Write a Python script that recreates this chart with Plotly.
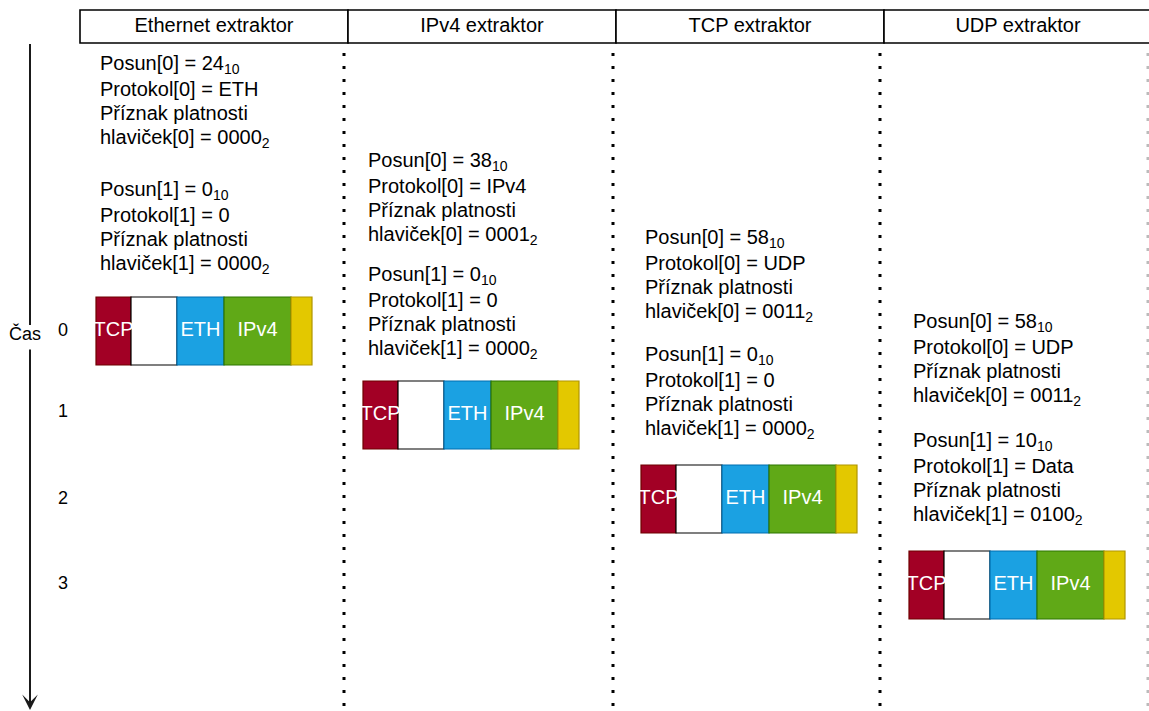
import plotly.graph_objects as go

W, H = 1149, 711

# ---------------- data ----------------
column_titles = ["Ethernet extraktor", "IPv4 extraktor", "TCP extraktor", "UDP extraktor"]
posun0 = ["24", "38", "58", "58"]
protokol0 = ["ETH", "IPv4", "UDP", "UDP"]
platnost0 = ["0000", "0001", "0011", "0011"]
posun1 = ["0", "0", "0", "10"]
protokol1 = ["0", "0", "0", "Data"]
platnost1 = ["0000", "0000", "0000", "0100"]
time_steps = [0, 1, 2, 3]
time_title = "Čas"

segment_labels = ["TCP", "", "ETH", "IPv4", ""]
segment_widths = [35, 46, 47, 67, 21]
segment_fill = ["#a20025", "#ffffff", "#1ba1e2", "#60a917", "#e3c800"]
segment_line = ["#6f0000", "#000000", "#006eaf", "#2d7600", "#b09500"]

# ---------------- layout constants ----------------
FONT = "Liberation Sans, Arial, Helvetica, sans-serif"
col_left = [80, 348, 616, 884]
col_width = 268
header_top, header_bottom = 10, 43
dot_x = [344, 613, 880, 1148]
dot_color = ["#000000", "#000000", "#000000", "#bbbbbb"]
text_x = [100, 368, 645, 913]
block0_y = [65, 162, 239, 323]
block1_y = [191, 276, 356, 442]
line_offsets = [0, 26, 50, 74]
packet_x = [96, 363, 641, 909]
packet_y = [297, 381, 465, 551]
packet_h = 68
time_x = 63
time_y = [331, 412, 499, 584]
axis_x = 30

shapes = []
fig = go.Figure()

# header boxes
for i, title in enumerate(column_titles):
    x0 = col_left[i]
    shapes.append(dict(type="rect", xref="x", yref="y", x0=x0, x1=x0 + col_width,
                       y0=header_top, y1=header_bottom,
                       line=dict(color="#000000", width=1.6), fillcolor="white", layer="below"))
fig.add_trace(go.Scatter(
    x=[col_left[i] + col_width / 2 for i in range(len(column_titles))],
    y=[(header_top + header_bottom) / 2] * len(column_titles),
    text=column_titles, mode="text", textposition="middle center",
    textfont=dict(family=FONT, size=20, color="#000000"), hoverinfo="skip", showlegend=False))

# dotted separators
for xd, c in zip(dot_x, dot_color):
    shapes.append(dict(type="line", xref="x", yref="y", x0=xd, x1=xd, y0=53, y1=H,
                       line=dict(color=c, width=3, dash="3px,10px"), layer="below"))

# text blocks
tx, ty, tt = [], [], []
for i in range(4):
    lines0 = [f"Posun[0] = {posun0[i]}<sub>10</sub>",
              f"Protokol[0] = {protokol0[i]}",
              "Příznak platnosti",
              f"hlaviček[0] = {platnost0[i]}<sub>2</sub>"]
    lines1 = [f"Posun[1] = {posun1[i]}<sub>10</sub>",
              f"Protokol[1] = {protokol1[i]}",
              "Příznak platnosti",
              f"hlaviček[1] = {platnost1[i]}<sub>2</sub>"]
    for k, ln in enumerate(lines0):
        tx.append(text_x[i]); ty.append(block0_y[i] + line_offsets[k]); tt.append(ln)
    for k, ln in enumerate(lines1):
        tx.append(text_x[i]); ty.append(block1_y[i] + line_offsets[k]); tt.append(ln)
fig.add_trace(go.Scatter(x=tx, y=ty, text=tt, mode="text", textposition="middle right",
                         textfont=dict(family=FONT, size=20, color="#000000"),
                         hoverinfo="skip", showlegend=False))

# packets
lx, ly, lt = [], [], []
for p in range(4):
    x = packet_x[p]
    for lab, w, fc, lc in zip(segment_labels, segment_widths, segment_fill, segment_line):
        shapes.append(dict(type="rect", xref="x", yref="y", x0=x, x1=x + w,
                           y0=packet_y[p], y1=packet_y[p] + packet_h,
                           fillcolor=fc, line=dict(color=lc, width=1.2), layer="below"))
        if lab:
            lx.append(x + w / 2); ly.append(packet_y[p] + packet_h / 2); lt.append(lab)
        x += w
fig.add_trace(go.Scatter(x=lx, y=ly, text=lt, mode="text", textposition="middle center",
                         textfont=dict(family=FONT, size=20, color="#ffffff"),
                         hoverinfo="skip", showlegend=False))

# time labels
fig.add_trace(go.Scatter(x=[time_x] * len(time_steps), y=time_y,
                         text=[str(t) for t in time_steps], mode="text",
                         textposition="middle center",
                         textfont=dict(family=FONT, size=18, color="#000000"),
                         hoverinfo="skip", showlegend=False))
fig.add_trace(go.Scatter(x=[25], y=[335], text=[time_title], mode="text",
                         textposition="middle center",
                         textfont=dict(family=FONT, size=18, color="#000000"),
                         hoverinfo="skip", showlegend=False))

# time axis arrow
shapes.append(dict(type="line", xref="x", yref="y", x0=axis_x, x1=axis_x, y0=44, y1=325,
                   line=dict(color="#1a1a1a", width=2)))
fig.add_annotation(x=axis_x, y=710, ax=axis_x, ay=348, xref="x", yref="y",
                   axref="x", ayref="y", text="", showarrow=True, arrowhead=3,
                   arrowsize=1.3, arrowwidth=2, arrowcolor="#1a1a1a")

fig.update_layout(
    width=W, height=H, margin=dict(l=0, r=0, t=0, b=0),
    paper_bgcolor="white", plot_bgcolor="white", shapes=shapes,
    xaxis=dict(range=[0, W], visible=False, fixedrange=True),
    yaxis=dict(range=[H, 0], visible=False, fixedrange=True),
    showlegend=False,
)
fig.write_html("out.html", config={"displayModeBar": False},
               post_script="document.body.style.margin='0';document.body.style.overflow='hidden';")
